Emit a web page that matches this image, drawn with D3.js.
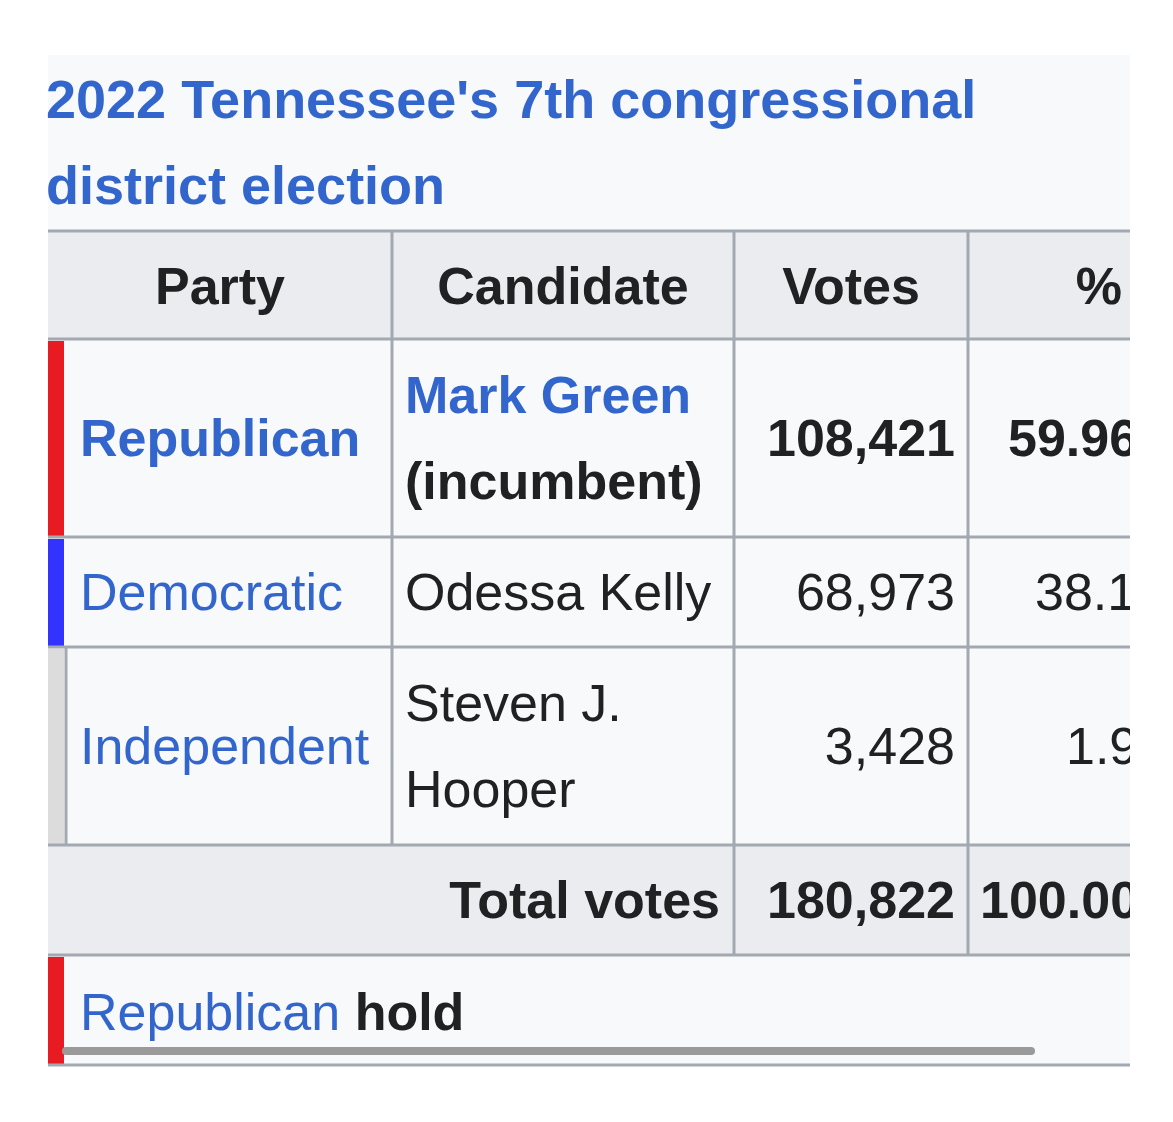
<!DOCTYPE html>
<html><head><meta charset="utf-8">
<script src="https://cdn.jsdelivr.net/npm/d3@7"></script>
<style>body{margin:0;background:#fff}</style>
</head><body><svg id="tbl"></svg>
<script>
const titleLines = ["2022 Tennessee's 7th congressional", "district election"]
const headers = ["Party", "Candidate", "Votes", "%"]
const parties = ["Republican", "Democratic", "Independent"]
const partyColors = ["#e81b23", "#3333ff", "#dcdcdc"]
const candidates = [["Mark Green", "(incumbent)"], ["Odessa Kelly"], ["Steven J.", "Hooper"]]
const votes = [108421, 68973, 3428]
const pcts = ["59.96", "38.14", "1.90"]
const totalVotes = 180822
const totalPct = "100.00"

const W = 1173, H = 1122
const font = "'Liberation Sans', Arial, sans-serif"
const blue = "#3366cc", ink = "#202122", line = "#a2a9b1"
const colX = [48, 392, 734, 968, 1300]
const rowY = [231, 339, 537, 647, 845, 955, 1065]
const pctX = [1008, 1035, 1066]
const fs = 52
const fmt = d3.format(",")

const svg = d3.select('#tbl').attr('width', W).attr('height', H)
  .style('font-family', font)
svg.append('clipPath').attr('id', 'clip').append('rect')
  .attr('x', 0).attr('y', 0).attr('width', 1130).attr('height', H)
const g = svg.append('g').attr('clip-path', 'url(#clip)')

g.append('rect').attr('x', 48).attr('y', 55).attr('width', 1082).attr('height', 1010).attr('fill', '#f8f9fa')

titleLines.forEach((t, i) => {
  g.append('text').attr('x', 46).attr('y', 118 + i * 86).text(t)
    .attr('fill', blue).attr('font-weight', 'bold').attr('font-size', 54)
})

// header + total row backgrounds
g.append('rect').attr('x', 48).attr('y', rowY[0]).attr('width', 1100).attr('height', rowY[1] - rowY[0]).attr('fill', '#eaecf0')
g.append('rect').attr('x', 48).attr('y', rowY[4]).attr('width', 1100).attr('height', rowY[5] - rowY[4]).attr('fill', '#eaecf0')

headers.forEach((h, i) => {
  const cx = i < 3 ? (colX[i] + colX[i + 1]) / 2 : 1122
  g.append('text').attr('x', cx).attr('y', 304).text(h)
    .attr('text-anchor', i < 3 ? 'middle' : 'end')
    .attr('font-weight', 'bold').attr('font-size', fs).attr('fill', ink)
})

parties.forEach((p, i) => {
  const y0 = rowY[i + 1], y1 = rowY[i + 2], mid = (y0 + y1) / 2
  const bold = i === 0 ? 'bold' : 'normal'
  g.append('rect').attr('x', 48).attr('y', y0 + 2).attr('width', 16).attr('height', y1 - y0 - 2).attr('fill', partyColors[i])
  g.append('text').attr('x', 80).attr('y', mid + 18).text(p)
    .attr('fill', blue).attr('font-weight', bold).attr('font-size', fs)
  const c = candidates[i]
  c.forEach((t, j) => {
    g.append('text').attr('x', 405).attr('y', mid + 18 + (j - (c.length - 1) / 2) * 86).text(t)
      .attr('fill', (i === 0 && j === 0) ? blue : ink).attr('font-weight', bold).attr('font-size', fs)
  })
  g.append('text').attr('x', 955).attr('y', mid + 18).text(fmt(votes[i]))
    .attr('text-anchor', 'end').attr('fill', ink).attr('font-weight', bold).attr('font-size', fs)
  g.append('text').attr('x', pctX[i]).attr('y', mid + 18).text(pcts[i])
    .attr('fill', ink).attr('font-weight', bold).attr('font-size', fs)
})

// total row
const tm = (rowY[4] + rowY[5]) / 2 + 18
g.append('text').attr('x', 720).attr('y', tm).text('Total votes').attr('text-anchor', 'end')
  .attr('font-weight', 'bold').attr('font-size', fs).attr('fill', ink)
g.append('text').attr('x', 955).attr('y', tm).text(fmt(totalVotes)).attr('text-anchor', 'end')
  .attr('font-weight', 'bold').attr('font-size', fs).attr('fill', ink)
g.append('text').attr('x', 980).attr('y', tm).text(totalPct)
  .attr('font-weight', 'bold').attr('font-size', fs).attr('fill', ink)

// hold row
g.append('rect').attr('x', 48).attr('y', rowY[5] + 2).attr('width', 16).attr('height', rowY[6] - rowY[5] - 2).attr('fill', partyColors[0])
const hold = g.append('text').attr('x', 80).attr('y', 1030).attr('font-size', fs)
hold.append('tspan').text('Republican').attr('fill', blue)
hold.append('tspan').text(' hold').attr('fill', ink).attr('font-weight', 'bold')

// grid lines
rowY.forEach(y => g.append('line').attr('x1', 48).attr('x2', 1200).attr('y1', y).attr('y2', y)
  .attr('stroke', line).attr('stroke-width', 3))
colX.slice(1, 4).forEach((x, i) => g.append('line').attr('x1', x).attr('x2', x)
  .attr('y1', i === 0 ? rowY[0] : rowY[0]).attr('y2', i === 0 ? rowY[4] : rowY[5])
  .attr('stroke', line).attr('stroke-width', 3))
g.append('line').attr('x1', 66).attr('x2', 66).attr('y1', rowY[3]).attr('y2', rowY[4]).attr('stroke', line).attr('stroke-width', 3)

// scrollbar
g.append('line').attr('x1', 66).attr('x2', 1031).attr('y1', 1051).attr('y2', 1051)
  .attr('stroke', '#9a9a9a').attr('stroke-width', 8).attr('stroke-linecap', 'round')
</script></body></html>
